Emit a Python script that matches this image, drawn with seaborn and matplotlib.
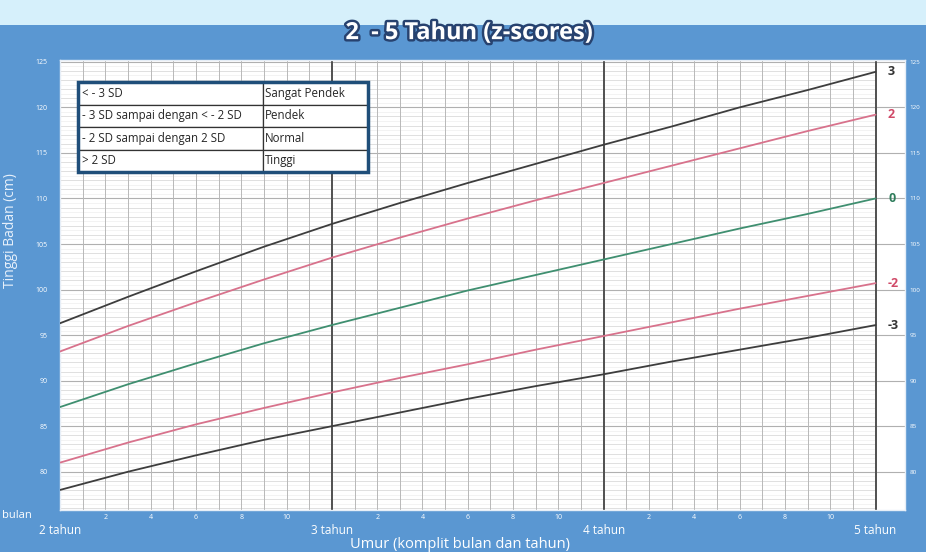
import numpy as np
import pandas as pd
import matplotlib
matplotlib.use("Agg")
import matplotlib.pyplot as plt
import matplotlib.patheffects as pe
from matplotlib.patches import Rectangle
import seaborn as sns

# umur dalam bulan, tinggi badan (cm) untuk tiap garis z-score
umur = [24, 27, 30, 33, 36, 39, 42, 45, 48, 51, 54, 57, 60]
sd_min3 = [78.0, 80.0, 81.8, 83.5, 85.0, 86.5, 88.0, 89.4, 90.7, 92.1, 93.4, 94.7, 96.1]
sd_min2 = [81.0, 83.2, 85.2, 87.0, 88.7, 90.3, 91.8, 93.4, 94.9, 96.4, 97.9, 99.3, 100.7]
sd_0 = [87.1, 89.6, 91.9, 94.1, 96.1, 98.0, 99.9, 101.6, 103.3, 105.0, 106.7, 108.3, 110.0]
sd_2 = [93.2, 96.0, 98.6, 101.1, 103.5, 105.7, 107.8, 109.8, 111.7, 113.6, 115.5, 117.4, 119.2]
sd_3 = [96.3, 99.2, 102.0, 104.7, 107.2, 109.5, 111.7, 113.8, 115.9, 117.9, 120.0, 121.9, 123.9]

garis = ["3", "2", "0", "-2", "-3"]
warna = {"3": "#3d3d3d", "2": "#d8728c", "0": "#3f8f70", "-2": "#d8728c", "-3": "#3d3d3d"}
warna_label = {"3": "#333333", "2": "#d04a68", "0": "#2f7d5c", "-2": "#d04a68", "-3": "#333333"}

tabel_kiri = ["< - 3 SD", "- 3 SD sampai dengan < - 2 SD", "- 2 SD sampai dengan 2 SD", "> 2 SD"]
tabel_kanan = ["Sangat Pendek", "Pendek", "Normal", "Tinggi"]

y_ticks = [80, 85, 90, 95, 100, 105, 110, 115, 120, 125]
bulan_ticks = [2, 4, 6, 8, 10]
tahun = [2, 3, 4, 5]

df = pd.DataFrame({
    "umur": umur * 5,
    "tinggi": sd_3 + sd_2 + sd_0 + sd_min2 + sd_min3,
    "z": sum([[g] * len(umur) for g in garis], []),
})

sns.set_style("white")
plt.rcParams["font.family"] = ["Open Sans", "DejaVu Sans"]

bg = "#5a97d2"
fig = plt.figure(figsize=(9.26, 5.52), dpi=100, facecolor=bg)
# pita terang di atas
fig.patches.append(Rectangle((0, 0.955), 1, 0.045, transform=fig.transFigure,
                             facecolor="#d6f0fb", edgecolor="none", zorder=0))
ax = fig.add_axes([60 / 926, 42 / 552, 845 / 926, 450 / 552])
ax.set_facecolor("white")

xmin, xmax = 24, 61.3
ymin, ymax = 75.8, 125.2

# grid
for m in range(24, 61):
    if m % 12 == 0:
        ax.axvline(m, color="#505050", lw=1.4, zorder=2.5)
    else:
        ax.axvline(m, color="#b8b8b8", lw=0.7, zorder=2)
for v in np.arange(76, 125.5, 0.5):
    if v % 5 == 0:
        ax.axhline(v, color="#b0b0b0", lw=0.8, zorder=1.5)
    elif v % 1 == 0:
        ax.hlines(v, 24, 60, color="#dadada", lw=0.6, zorder=1)
    else:
        ax.hlines(v, 24, 60, color="#efefef", lw=0.5, zorder=1)

sns.lineplot(data=df, x="umur", y="tinggi", hue="z", palette=warna,
             lw=1.3, legend=False, ax=ax, zorder=3)

for g, vals in zip(garis, [sd_3, sd_2, sd_0, sd_min2, sd_min3]):
    ax.text(60.55, vals[-1], g, color=warna_label[g], fontsize=9,
            fontweight="bold", va="center", ha="left", zorder=4)

ax.set_xlim(xmin, xmax)
ax.set_ylim(ymin, ymax)
ax.set_yticks(y_ticks)
ax.set_yticklabels([str(t) for t in y_ticks])
ax.tick_params(axis="y", labelsize=5, colors="white", length=0, pad=9)
ax.set_xticks([12 * (t - 2) + 24 + b for t in tahun[:-1] for b in bulan_ticks])
ax.set_xticklabels([str(b) for t in tahun[:-1] for b in bulan_ticks])
ax.tick_params(axis="x", labelsize=5, colors="white", length=0, pad=3)
ax.set_xlabel("")
ax.set_ylabel("Tinggi Badan (cm)", color="#e8f1fb", fontsize=10, labelpad=2)
ax.yaxis.set_label_coords(-0.05, 0.62)
for s in ax.spines.values():
    s.set_color("#e6eef7")
    s.set_linewidth(1)

# label sumbu kanan
ax2 = ax.twinx()
ax2.set_ylim(ymin, ymax)
ax2.set_yticks(y_ticks)
ax2.set_yticklabels([str(t) for t in y_ticks])
ax2.tick_params(axis="y", labelsize=4.5, colors="white", length=0, pad=3)
ax2.grid(False)
for s in ax2.spines.values():
    s.set_visible(False)

for t in tahun:
    ax.text(12 * (t - 2) + 24, -0.045, f"{t} tahun", transform=ax.get_xaxis_transform(),
            ha="center", va="center", color="white", fontsize=8.5)
fig.text(2 / 926, 1 - 516 / 552, "bulan", ha="left", va="center",
         color="white", fontsize=8)
fig.text(0.497, 0.013, "Umur (komplit bulan dan tahun)", ha="center", va="center",
         color="white", fontsize=10.5)

title = fig.text(0.507, 0.94, "2  - 5 Tahun (z-scores)", ha="center", va="center",
                 color="white", fontsize=17, fontweight="bold")
title.set_path_effects([pe.withStroke(linewidth=3.5, foreground="#27426f")])

# tabel keterangan
tb = ax.table(cellText=[[a, b] for a, b in zip(tabel_kiri, tabel_kanan)],
              colWidths=[0.638, 0.362], cellLoc="left",
              bbox=[18 / 845, 0.751, 290 / 845, 0.2], zorder=5)
tb.auto_set_font_size(False)
tb.set_fontsize(8.3)
for cell in tb.get_celld().values():
    cell.set_edgecolor("#333333")
    cell.set_linewidth(0.9)
    cell.set_facecolor("white")
    cell.PAD = 0.02
ax.add_patch(Rectangle((18 / 845, 0.751), 290 / 845, 0.2, transform=ax.transAxes,
                       fill=False, edgecolor="#1f4e79", lw=2.5, zorder=6))

fig.savefig("out.png", dpi=100, facecolor=bg)
